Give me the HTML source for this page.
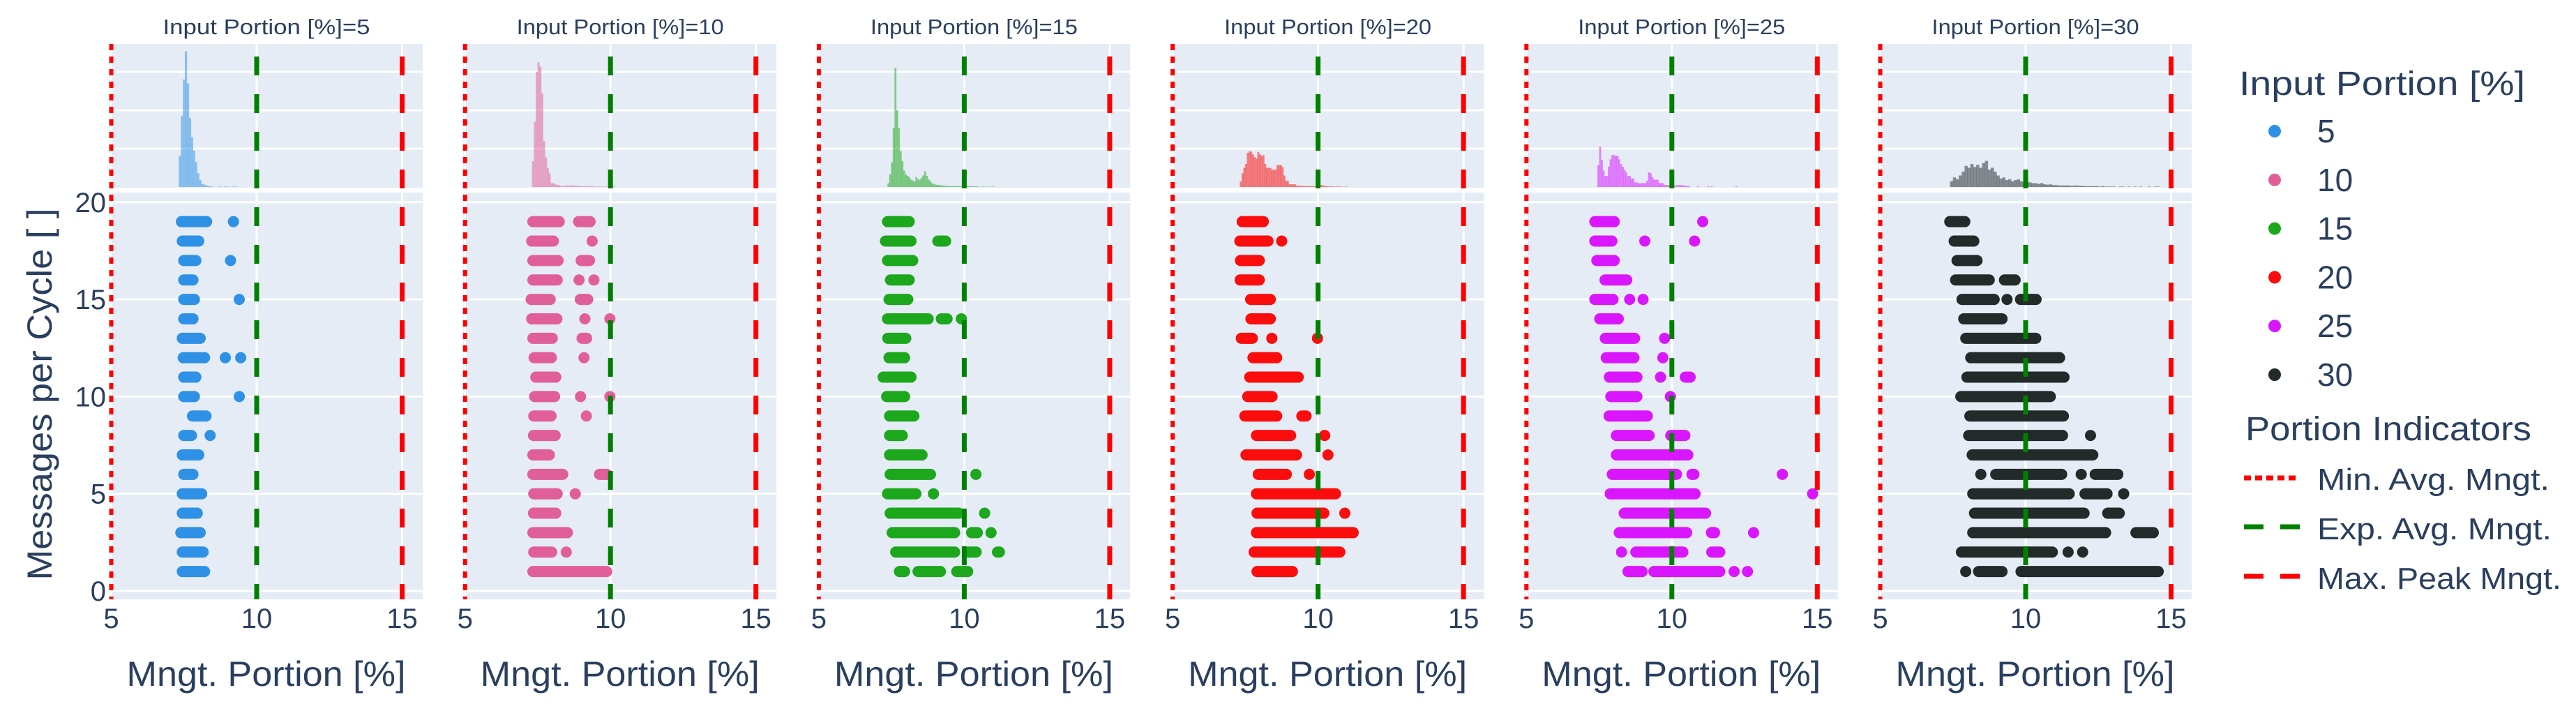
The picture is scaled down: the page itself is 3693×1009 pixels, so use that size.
<!DOCTYPE html>
<html><head><meta charset="utf-8"><style>
html,body{margin:0;padding:0;background:#fff;}
svg{display:block;font-family:"Liberation Sans",Arial,sans-serif;}
</style></head><body>
<svg id="chart" width="3693" height="1009" viewBox="0 0 3693 1009" xmlns="http://www.w3.org/2000/svg">
<g id="panels"></g>
<text x="0" y="0" transform="translate(74,565) rotate(-90)" text-anchor="middle" font-size="50" fill="#2a3f5f" textLength="533" lengthAdjust="spacingAndGlyphs">Messages per Cycle [ ]</text>
<g id="legend">
<text x="3210" y="136" font-size="48" fill="#2a3f5f" textLength="410" lengthAdjust="spacingAndGlyphs">Input Portion [%]</text>
<text x="3219" y="631" font-size="48" fill="#2a3f5f" textLength="410" lengthAdjust="spacingAndGlyphs">Portion Indicators</text>
<g><line x1="3217" x2="3297" y1="685" y2="685" stroke="#ff0000" stroke-width="7" stroke-dasharray="10,6"/><text x="3322" y="702" font-size="44" fill="#2a3f5f" textLength="333" lengthAdjust="spacingAndGlyphs">Min. Avg. Mngt.</text></g>
<g><line x1="3217" x2="3297" y1="755" y2="755" stroke="#008000" stroke-width="7" stroke-dasharray="28,24"/><text x="3322" y="773" font-size="44" fill="#2a3f5f" textLength="336" lengthAdjust="spacingAndGlyphs">Exp. Avg. Mngt.</text></g>
<g><line x1="3217" x2="3297" y1="826" y2="826" stroke="#ff0000" stroke-width="7" stroke-dasharray="28,24"/><text x="3322" y="844" font-size="44" fill="#2a3f5f" textLength="350" lengthAdjust="spacingAndGlyphs">Max. Peak Mngt.</text></g>
</g>
</svg>
<script>
const inputPortions = [5, 10, 15, 20, 25, 30];
const seriesColors = ["#2E91E5", "#E15F99", "#1CA71C", "#FB0D0D", "#DA16FF", "#222A2A"];
const xTicks = [5, 10, 15];
const yTicks = [0, 5, 10, 15, 20];
const histGridTicks = [1, 2, 3];
const minAvgMngt = 5, expAvgMngt = 10, maxPeakMngt = 15;

const segs5 = [[19,7.22,8.47],[18,7.25,8.2],[17,7.3,8.1],[16,7.3,8.0],[15,7.3,8.05],[14,7.3,8.0],[13,7.25,8.25],[12,7.28,8.4],[12,8.77,9.07],[11,7.3,8.1],[10,7.3,8.05],[9,7.6,8.45],[8,7.3,7.95],[7,7.25,8.2],[6,7.3,8.0],[5,7.25,8.3],[4,7.25,8.15],[3,7.2,8.25],[2,7.25,8.35],[1,7.25,8.4]];
const dots5 = [[19,9.2],[17,9.1],[15,9.4],[12,9.45],[10,9.4],[8,8.4]];
const segs10 = [[19,7.14,8.43],[19,8.71,9.49],[18,7.1,8.23],[17,7.14,8.39],[17,8.8,9.47],[16,7.14,8.36],[15,7.08,8.12],[15,8.77,9.41],[14,7.1,8.35],[13,7.14,8.19],[13,8.83,9.37],[12,7.18,8.16],[11,7.24,8.31],[10,7.2,8.27],[9,7.17,8.15],[8,7.16,8.29],[7,7.14,8.09],[6,7.14,8.55],[6,9.43,10.07],[5,7.17,8.36],[4,7.16,8.31],[3,7.14,8.71],[2,7.17,8.17],[1,7.14,10.06]];
const dots10 = [[18,9.37],[16,8.92],[16,9.43],[14,9.12],[14,9.98],[12,9.09],[10,8.97],[10,9.98],[9,9.17],[5,8.79],[2,8.48]];
const segs15 = [[19,7.17,8.3],[18,7.1,8.36],[18,8.9,9.55],[17,7.17,8.42],[16,7.27,8.3],[15,7.22,8.25],[14,7.17,8.95],[14,9.02,9.6],[13,7.18,8.18],[12,7.22,8.14],[11,7.02,8.36],[10,7.14,8.14],[9,7.24,8.46],[8,7.24,8.06],[7,7.24,8.74],[6,7.26,9.03],[5,7.17,8.53],[4,7.26,10.0],[3,7.33,9.86],[3,10.06,10.64],[2,7.45,9.86],[2,9.95,10.6],[2,10.95,11.4],[1,7.58,8.14],[1,8.22,9.37],[1,9.55,10.31]];
const dots15 = [[14,9.9],[6,10.4],[5,8.94],[4,10.7],[3,10.92]];
const segs20 = [[19,7.2,8.31],[18,7.12,8.47],[17,7.14,8.17],[16,7.13,8.17],[15,7.49,8.55],[14,7.5,8.55],[13,7.17,7.93],[12,7.57,8.77],[11,7.46,9.51],[10,7.39,8.61],[9,7.29,8.77],[9,9.25,9.78],[8,7.69,9.25],[8,10.03,10.42],[7,7.33,9.45],[6,7.75,9.1],[5,7.69,10.79],[4,7.71,10.39],[3,7.69,11.4],[2,7.61,10.94],[1,7.71,9.31]];
const dots20 = [[18,8.75],[13,8.41],[13,9.98],[7,10.34],[6,9.7],[4,10.92]];
const segs25 = [[19,7.16,8.21],[18,7.16,8.13],[17,7.23,8.21],[16,7.51,8.64],[15,7.16,8.17],[14,7.33,8.35],[13,7.52,8.91],[12,7.55,8.89],[11,7.66,8.99],[11,10.27,10.82],[10,7.71,8.99],[9,7.65,9.35],[8,7.9,9.41],[8,9.77,10.64],[7,7.9,10.74],[6,7.76,10.35],[6,10.5,10.95],[5,7.69,10.99],[4,8.17,11.35],[3,8.0,10.7],[3,11.17,11.66],[2,8.57,10.57],[2,11.18,11.84],[1,8.3,9.17],[1,9.19,11.84]];
const dots25 = [[19,11.06],[18,9.07],[18,10.78],[15,8.55],[15,9.01],[13,9.75],[12,9.69],[11,9.61],[10,9.95],[6,13.8],[5,14.84],[3,12.81],[2,8.27],[1,12.14],[1,12.6]];
const segs30 = [[19,7.2,8.1],[18,7.35,8.41],[17,7.45,8.52],[16,7.4,8.94],[16,9.08,9.83],[15,7.62,9.11],[15,9.63,10.55],[14,7.68,9.38],[13,7.75,10.54],[12,7.92,11.36],[11,7.79,11.51],[10,7.58,11.04],[9,7.89,11.49],[8,7.85,11.46],[7,7.97,12.5],[6,8.78,11.43],[6,12.2,13.36],[5,7.99,11.69],[5,11.85,12.99],[4,8.05,12.2],[4,12.63,13.41],[3,7.99,12.94],[3,13.6,14.58],[2,7.6,11.11],[1,8.19,9.38],[1,9.65,14.75]];
const dots30 = [[15,9.36],[8,12.23],[6,8.46],[6,11.91],[5,13.37],[2,11.46],[2,11.96],[1,7.94]];

const histStarts = [7.32, 7.3, 7.36, 7.31, 7.44, 7.4];
const histBinWidths = [0.07, 0.064, 0.06, 0.06, 0.06, 0.1];
const hist5 = [0.8,1.85,2.8,3.54,2.7,1.8,1.3,0.95,0.65,0.36,0.18,0.08,0.06,0.04,0.02,0.02,0.01,0,0,0.01,0.01,0,0.01,0.01,0.01,0,0.01,0.01,0.01];
const hist10 = [0.67,1.7,3.0,3.25,3.13,2.44,1.2,0.77,0.5,0.35,0.1,0.1,0.08,0.05,0.05,0.03,0.02,0.03,0.04,0.03,0.03,0.04,0.04,0.03,0.03,0.02,0.02,0.02,0.02,0.02,0.02,0.02,0.02,0.01,0.01,0.01,0.01,0.01,0.01,0.01,0.01,0.01,0.01,0.01,0.01];
const hist15 = [0.1,0.33,0.64,1.53,3.1,2.0,1.53,0.93,0.67,0.43,0.33,0.29,0.25,0.19,0.17,0.14,0.26,0.2,0.19,0.24,0.3,0.41,0.29,0.2,0.15,0.1,0.08,0.06,0.05,0.05,0.05,0.04,0.03,0.03,0.03,0.02,0.02,0.02,0.02,0.03,0.02,0.02,0.02,0.02,0.02,0.02,0.02,0.02,0.02,0.01,0.02,0.01,0.01,0,0.01,0.01,0,0.01,0,0.01,0.01];
const hist20 = [0.14,0.36,0.5,0.6,0.89,0.93,0.92,0.85,0.78,0.74,0.91,0.85,0.81,0.83,0.6,0.5,0.5,0.5,0.45,0.45,0.45,0.57,0.57,0.57,0.52,0.3,0.16,0.16,0.07,0.07,0.07,0.07,0.04,0.03,0.03,0.02,0.03,0.02,0.02,0.02,0.02,0.02,0.02,0.02,0.03,0.04,0.05,0.04,0.03,0.02,0.02,0.01,0.02,0.01,0.01,0.01,0.01,0.01,0.01,0,0.01,0.01];
const hist25 = [0.57,1.05,0.7,0.43,0.29,0.29,0.53,0.72,0.83,0.83,0.81,0.81,0.72,0.6,0.53,0.45,0.38,0.29,0.29,0.22,0.22,0.12,0.12,0.1,0.1,0.1,0.1,0.1,0.16,0.38,0.36,0.26,0.19,0.19,0.19,0.1,0.1,0.1,0.05,0.05,0.05,0.05,0.04,0.05,0.04,0.04,0.05,0.05,0.04,0.04,0.03,0.03,0.02,0,0,0,0,0.02,0,0,0,0,0,0.02,0,0.02,0,0,0,0,0,0,0,0,0,0,0,0,0,0.02];
const hist30 = [0.15,0.25,0.2,0.3,0.4,0.55,0.5,0.6,0.52,0.58,0.5,0.62,0.68,0.45,0.5,0.4,0.3,0.22,0.25,0.18,0.2,0.15,0.18,0.2,0.15,0.12,0.14,0.12,0.1,0.1,0.08,0.1,0.07,0.06,0.07,0.05,0.05,0.04,0.04,0.04,0.04,0.03,0.03,0.04,0.03,0.03,0.02,0.02,0.02,0.02,0.02,0.01,0.02,0.01,0.01,0.01,0.01,0,0.01,0.01,0,0.01,0,0.01,0,0.01,0,0,0.01,0,0.01,0.01];

const allSegs = [segs5, segs10, segs15, segs20, segs25, segs30];
const allDots = [dots5, dots10, dots15, dots20, dots25, dots30];
const allHists = [hist5, hist10, hist15, hist20, hist25, hist30];

const NS = "http://www.w3.org/2000/svg";
const PANEL_LEFT0 = 157, PANEL_STEP = 507.2, PANEL_W = 449;
const X_MIN = 4.94, X_SCALE = 41.7;
const SC_TOP = 276, SC_BOT = 859, Y_ZERO = 847, Y_UNIT = 27.86;
const H_TOP = 63, H_BOT = 269, H_BASE = 268, H_UNIT = 55;
const R = 8;

function el(tag, attrs, parent) {
  const e = document.createElementNS(NS, tag);
  for (const k in attrs) e.setAttribute(k, attrs[k]);
  parent.appendChild(e);
  return e;
}
const root = document.getElementById("panels");

inputPortions.forEach((ip, i) => {
  const L = PANEL_LEFT0 + PANEL_STEP * i;
  const xs = v => L + (v - X_MIN) * X_SCALE;
  const ys = v => Y_ZERO - v * Y_UNIT;
  const hs = v => H_BASE - v * H_UNIT;
  const col = seriesColors[i];
  const g = el("g", {}, root);
  
  

  const title = el("text", {x: L + PANEL_W / 2 + 0.5, y: 49, "text-anchor": "middle", "font-size": 31, fill: "#2a3f5f", textLength: 297, lengthAdjust: "spacingAndGlyphs"}, g);
  title.textContent = "Input Portion [%]=" + ip;
  
  

  const hb = el("rect", {x: L, y: H_TOP, width: PANEL_W, height: H_BOT - H_TOP, fill: "#E5ECF6"}, g);
  
  
  const sb = el("rect", {x: L, y: SC_TOP, width: PANEL_W, height: SC_BOT - SC_TOP, fill: "#E5ECF6"}, g);
  
  

  histGridTicks.forEach(t => {
    const gl = el("line", {x1: L, x2: L + PANEL_W, y1: hs(t), y2: hs(t), stroke: "#fff", "stroke-width": 3}, g);
    
    
  });
  yTicks.forEach(t => {
    const gl = el("line", {x1: L, x2: L + PANEL_W, y1: ys(t), y2: ys(t), stroke: "#fff", "stroke-width": 3}, g);
    
    
  });
  xTicks.forEach(t => {
    const gl = el("line", {x1: xs(t), x2: xs(t), y1: H_TOP, y2: SC_BOT, stroke: "#fff", "stroke-width": 3}, g);
    
    
    const tl = el("text", {x: xs(t), y: 900, "text-anchor": "middle", "font-size": 40, fill: "#2a3f5f"}, g);
    tl.textContent = t;
    
    
  });

  const hist = allHists[i];
  hist.forEach((h, k) => {
    if (h <= 0) return;
    const x0 = xs(histStarts[i] + k * histBinWidths[i]);
    const r = el("rect", {x: x0, y: hs(h), width: histBinWidths[i] * X_SCALE + 0.3, height: H_BASE - hs(h), fill: col, "fill-opacity": 0.5}, g);
    
    
  });

  allSegs[i].forEach(s => {
    let a = xs(s[1]) + R, b = xs(s[2]) - R;
    if (b < a) { const m = (a + b) / 2; a = m; b = m + 0.1; }
    const ln = el("line", {x1: a, x2: b, y1: ys(s[0]), y2: ys(s[0]), stroke: col, "stroke-width": 2 * R, "stroke-linecap": "round"}, g);
    
    
  });
  allDots[i].forEach(d => {
    const c = el("circle", {cx: xs(d[1]), cy: ys(d[0]), r: R, fill: col}, g);
    
    
  });

  const minL = el("line", {x1: xs(minAvgMngt), x2: xs(minAvgMngt), y1: H_TOP, y2: SC_BOT, stroke: "#ff0000", "stroke-width": 6, "stroke-dasharray": "9,9"}, g);
  
  
  const expL = el("line", {x1: xs(expAvgMngt), x2: xs(expAvgMngt), y1: H_TOP, y2: SC_BOT, stroke: "#008000", "stroke-width": 7, "stroke-dasharray": "27,27", "stroke-dashoffset": 36}, g);
  
  
  const maxL = el("line", {x1: xs(maxPeakMngt), x2: xs(maxPeakMngt), y1: H_TOP, y2: SC_BOT, stroke: "#ff0000", "stroke-width": 7, "stroke-dasharray": "27,27", "stroke-dashoffset": 36}, g);
  
  

  const xt = el("text", {x: L + PANEL_W / 2, y: 983, "text-anchor": "middle", "font-size": 50, fill: "#2a3f5f", textLength: 400, lengthAdjust: "spacingAndGlyphs"}, g);
  xt.textContent = "Mngt. Portion [%]";
  
  

  if (i === 0) {
    yTicks.forEach(t => {
      const tl = el("text", {x: 152, y: ys(t) + 14, "text-anchor": "end", "font-size": 40, fill: "#2a3f5f"}, g);
      tl.textContent = t;
      
      
    });
  }
});

const legend = document.getElementById("legend");
inputPortions.forEach((ip, i) => {
  const cy = 188 + i * 69.8;
  const g = el("g", {}, legend);
  
  
  el("circle", {cx: 3261, cy: cy, r: 9, fill: seriesColors[i]}, g);
  const t = el("text", {x: 3322, y: cy + 16, "font-size": 46, fill: "#2a3f5f"}, g);
  t.textContent = ip;
});
</script>
</body></html>
